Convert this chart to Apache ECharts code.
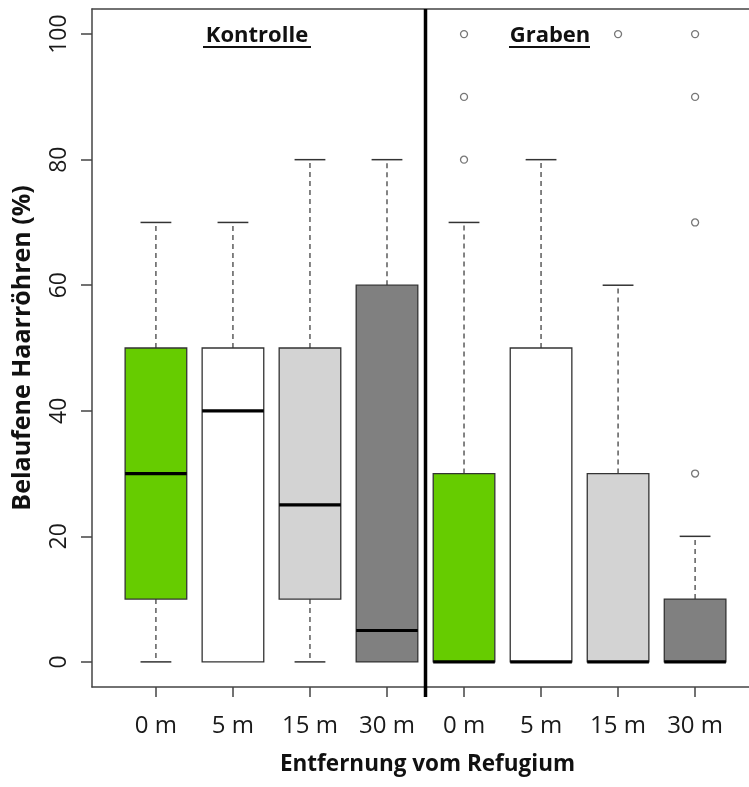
<!DOCTYPE html>
<html>
<head>
<meta charset="utf-8">
<script src="https://cdn.jsdelivr.net/npm/echarts@6/dist/echarts.min.js"></script>
<style>
  html, body { margin: 0; padding: 0; background: #fff; }
  #chart { width: 749px; height: 787px; }
</style>
</head>
<body>
<div id="chart"></div>
<script>
// Boxplot Kontrolle / Graben
const categories = ['0 m', '5 m', '15 m', '30 m', '0 m', '5 m', '15 m', '30 m'];
const lowWhisker = [0, 0, 0, 0, 0, 0, 0, 0];
const q1 = [10, 0, 10, 0, 0, 0, 0, 0];
const median = [30, 40, 25, 5, 0, 0, 0, 0];
const q3 = [50, 50, 50, 60, 30, 50, 30, 10];
const highWhisker = [70, 70, 80, 80, 70, 80, 60, 20];
// [Position (1..8), Wert]
const outliers = [[5, 80], [5, 90], [5, 100], [7, 100], [8, 30], [8, 70], [8, 90], [8, 100]];
const fills = ['#66cc00', '#ffffff', '#d3d3d3', '#808080', '#66cc00', '#ffffff', '#d3d3d3', '#808080'];
const yTicks = [0, 20, 40, 60, 80, 100];
const FONT = 'Open Sans';

function initChart() {
    const myChart = echarts.init(document.getElementById('chart'));
    const positions = categories.map((c, i) => i + 1);

    const boxData = categories.map((c, i) => [i + 1, lowWhisker[i], q1[i], median[i], q3[i], highWhisker[i]]);

    function renderBox(params, api) {
        const x = api.value(0);
        const half = api.size([0.8, 0])[0] / 2;
        const cap = half / 2;
        const pLow = api.coord([x, api.value(1)]);
        const pQ1 = api.coord([x, api.value(2)]);
        const pMed = api.coord([x, api.value(3)]);
        const pQ3 = api.coord([x, api.value(4)]);
        const pHigh = api.coord([x, api.value(5)]);
        const cx = pMed[0];
        const children = [];
        const dash = { stroke: '#333', lineWidth: 1.2, lineDash: [5, 4] };
        const solid = { stroke: '#333', lineWidth: 1.5 };
        if (pHigh[1] < pQ3[1]) {
            children.push({ type: 'line', shape: { x1: cx, y1: pQ3[1], x2: cx, y2: pHigh[1] }, style: dash });
            children.push({ type: 'line', shape: { x1: cx - cap, y1: pHigh[1], x2: cx + cap, y2: pHigh[1] }, style: solid });
        }
        if (pLow[1] > pQ1[1]) {
            children.push({ type: 'line', shape: { x1: cx, y1: pQ1[1], x2: cx, y2: pLow[1] }, style: dash });
            children.push({ type: 'line', shape: { x1: cx - cap, y1: pLow[1], x2: cx + cap, y2: pLow[1] }, style: solid });
        }
        children.push({
            type: 'rect',
            shape: { x: cx - half, y: pQ3[1], width: 2 * half, height: pQ1[1] - pQ3[1] },
            style: { fill: fills[params.dataIndex], stroke: '#333', lineWidth: 1.3 }
        });
        children.push({
            type: 'line',
            shape: { x1: cx - half, y1: pMed[1], x2: cx + half, y2: pMed[1] },
            style: { stroke: '#000', lineWidth: 3.2 }
        });
        return { type: 'group', children: children };
    }

    function renderDivider(params, api) {
        const top = api.coord([api.value(0), 104]);
        const bottom = api.coord([api.value(0), -4]);
        return {
            type: 'line',
            shape: { x1: top[0], y1: top[1], x2: bottom[0], y2: bottom[1] + 10 },
            style: { stroke: '#000', lineWidth: 3.5 }
        };
    }

    const option = {
        animation: false,
        backgroundColor: '#fff',
        grid: { left: 92, right: 0, top: 9, bottom: 100 },
        xAxis: [{
            type: 'value',
            min: 0.17,
            max: 8.7,
            splitLine: { show: false },
            axisLine: { show: true, onZero: false, lineStyle: { color: '#444', width: 1.5 } },
            axisTick: { show: true, length: 10, customValues: positions, lineStyle: { color: '#444', width: 1.5 } },
            axisLabel: {
                customValues: positions,
                margin: 27,
                fontFamily: FONT, fontSize: 24, color: '#1a1a1a',
                formatter: v => categories[Math.round(v) - 1]
            },
            name: 'Entfernung vom Refugium',
            nameLocation: 'middle',
            nameGap: 66,
            nameTextStyle: { fontFamily: FONT, fontSize: 22.5, fontWeight: 'bold', color: '#111', padding: [0, 0, 0, 14] }
        }, {
            type: 'value',
            position: 'top',
            min: 0.17,
            max: 8.7,
            splitLine: { show: false },
            axisLine: { show: true, onZero: false, lineStyle: { color: '#444', width: 1.5 } },
            axisTick: { show: false },
            axisLabel: { show: false }
        }],
        yAxis: {
            type: 'value',
            min: -4,
            max: 104,
            splitLine: { show: false },
            axisLine: { show: true, onZero: false, lineStyle: { color: '#444', width: 1.5 } },
            axisTick: { show: true, length: 11, customValues: yTicks, lineStyle: { color: '#444', width: 1.5 } },
            axisLabel: {
                customValues: yTicks,
                rotate: 90,
                margin: 21,
                fontFamily: FONT, fontSize: 23, color: '#1a1a1a'
            },
            name: 'Belaufene Haarröhren (%)',
            nameLocation: 'middle',
            nameRotate: 90,
            nameGap: 57,
            nameTextStyle: { fontFamily: FONT, fontSize: 25, fontWeight: 'bold', color: '#111' }
        },
        series: [{
            type: 'custom',
            renderItem: renderBox,
            data: boxData,
            encode: { x: 0, y: [1, 2, 3, 4, 5] },
            z: 2
        }, {
            type: 'scatter',
            data: outliers,
            symbol: 'circle',
            symbolSize: 7,
            itemStyle: { color: '#fff', borderColor: '#555', borderWidth: 1.3 },
            z: 3
        }, {
            type: 'custom',
            renderItem: renderDivider,
            data: [[4.5]],
            clip: false,
            z: 4
        }],
        graphic: [
            { type: 'text', x: 257, y: 36, style: { text: 'Kontrolle', font: 'bold 22px "Open Sans"', fill: '#111', align: 'center', verticalAlign: 'middle' } },
            { type: 'rect', left: 203, top: 46, shape: { width: 108, height: 2 }, style: { fill: '#111' } },
            { type: 'text', x: 550, y: 36, style: { text: 'Graben', font: 'bold 22px "Open Sans"', fill: '#111', align: 'center', verticalAlign: 'middle' } },
            { type: 'rect', left: 509, top: 46, shape: { width: 81, height: 2 }, style: { fill: '#111' } }
        ]
    };
    myChart.setOption(option);
    window.addEventListener('resize', () => myChart.resize());
}
window.addEventListener('load', initChart);
</script>
</body>
</html>
